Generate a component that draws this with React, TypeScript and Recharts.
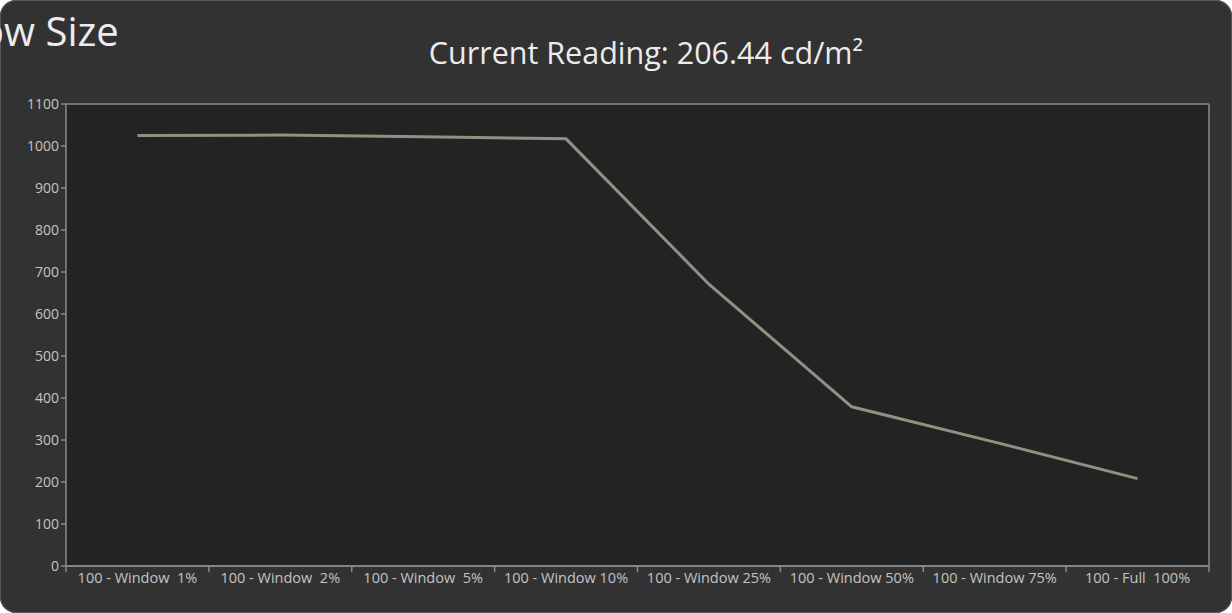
import React from "react";
import { LineChart, Line, XAxis, YAxis, CartesianGrid } from "recharts";

const categories = [
  "100 - Window  1%",
  "100 - Window  2%",
  "100 - Window  5%",
  "100 - Window 10%",
  "100 - Window 25%",
  "100 - Window 50%",
  "100 - Window 75%",
  "100 - Full  100%",
];
const luminance = [1025, 1026, 1022, 1017, 671, 379, 295, 208];
const yTicks = [0, 100, 200, 300, 400, 500, 600, 700, 800, 900, 1000, 1100];
const titleText = "Current Reading: 206.44 cd/m²";
const cornerText = "ow Size";

const data = categories.map((c, i) => ({ name: c, value: luminance[i] }));

const W = 1232;
const H = 613;
const MARGIN = { top: 104, right: 22, bottom: 17, left: 10 };
const Y_W = 56;
const RIGHT_W = 1;
const X_H = 30;
const PLOT_W = W - MARGIN.left - Y_W - MARGIN.right - RIGHT_W;
const BAND = PLOT_W / categories.length;

const FONT = "'Open Sans', 'Noto Sans', sans-serif";
const TICK_COLOR = "#c4c4c4";
const AXIS_COLOR = "#8a8a8a";

const XTick = (props: any) => {
  const { x, y, payload, index } = props;
  const half = BAND / 2;
  return (
    <g>
      {index === 0 && (
        <line x1={x - half} y1={y} x2={x - half} y2={y + 6} stroke={AXIS_COLOR} strokeWidth={1.5} />
      )}
      <line x1={x + half} y1={y} x2={x + half} y2={y + 6} stroke={AXIS_COLOR} strokeWidth={1.5} />
      <text
        x={x}
        y={y + 17}
        textAnchor="middle"
        fill={TICK_COLOR}
        fontSize={14.5}
        fontFamily={FONT}
        style={{ whiteSpace: "pre" }}
        xmlSpace="preserve"
      >
        {payload.value}
      </text>
    </g>
  );
};

export default function App() {
  return (
    <div style={{ position: "fixed", left: 0, top: 0, width: W, height: H, background: "#ffffff" }}>
      <div
        style={{
          position: "absolute",
          left: 0,
          top: 0,
          width: W,
          height: H,
          background: "#323232",
          borderRadius: 16,
          overflow: "hidden",
          boxShadow: "inset 0 0 0 1px #5a5a5a",
        }}
      >
        <div
          style={{
            position: "absolute",
            left: -20,
            top: 6,
            fontFamily: FONT,
            fontSize: 40,
            color: "#ececec",
            whiteSpace: "pre",
            lineHeight: "50px",
          }}
        >
          {cornerText}
        </div>
        <div
          style={{
            position: "absolute",
            left: 0,
            width: W,
            top: 30,
            textAlign: "center",
            fontFamily: FONT,
            fontSize: 30.5,
            color: "#ececec",
            lineHeight: "44px",
            paddingLeft: 60,
            boxSizing: "border-box",
          }}
        >
          {titleText}
        </div>
        <div style={{ position: "absolute", left: 0, top: 0 }}>
          <LineChart width={W} height={H} data={data} margin={MARGIN}>
            <CartesianGrid
              vertical={false}
              stroke={AXIS_COLOR}
              strokeWidth={1.5}
              fill="#232323"
              fillOpacity={1}
            />
            <XAxis
              dataKey="name"
              height={X_H}
              interval={0}
              padding={{ left: BAND / 2, right: BAND / 2 }}
              tickSize={0}
              tickMargin={0}
              tickLine={false}
              axisLine={{ stroke: AXIS_COLOR, strokeWidth: 1.5 }}
              tick={<XTick />}
            />
            <YAxis
              yAxisId="left"
              width={Y_W}
              domain={[0, 1100]}
              ticks={yTicks}
              interval={0}
              tickSize={5}
              tickMargin={2}
              tickLine={{ stroke: AXIS_COLOR, strokeWidth: 1.5 }}
              axisLine={{ stroke: AXIS_COLOR, strokeWidth: 1.5 }}
              tick={{ fill: TICK_COLOR, fontSize: 14, fontFamily: FONT }}
            />
            <YAxis
              yAxisId="right"
              orientation="right"
              width={RIGHT_W}
              domain={[0, 1100]}
              tick={false}
              tickLine={false}
              axisLine={{ stroke: AXIS_COLOR, strokeWidth: 1.5 }}
            />
            <Line
              yAxisId="left"
              type="linear"
              dataKey="value"
              stroke="#8f9181"
              strokeWidth={3}
              dot={false}
              activeDot={false}
              isAnimationActive={false}
            />
          </LineChart>
        </div>
      </div>
    </div>
  );
}
